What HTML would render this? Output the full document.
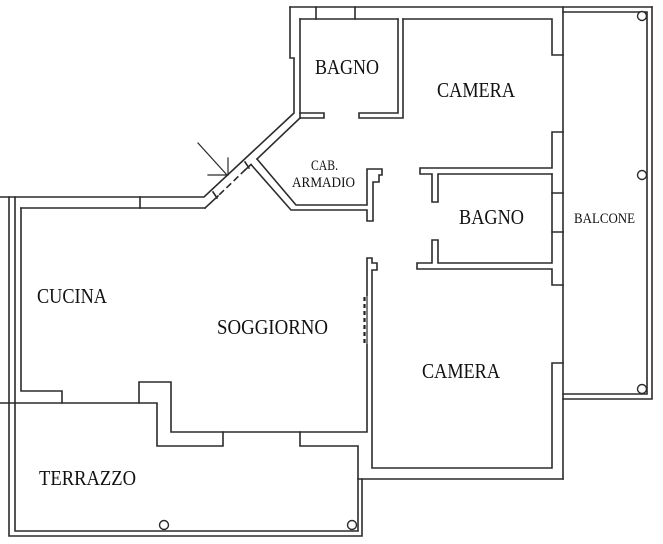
<!DOCTYPE html>
<html><head><meta charset="utf-8"><style>
html,body{margin:0;padding:0;background:#fff;}
svg{display:block;}
text{font-family:"Liberation Serif",serif;fill:#111;}
</style></head><body>
<svg width="663" height="544" viewBox="0 0 663 544" xmlns="http://www.w3.org/2000/svg">
<g fill="none" stroke="#2b2b2b" stroke-width="1.6" stroke-linejoin="miter" stroke-linecap="square">
<!-- top outer wall -->
<path d="M290,7 L652,7"/>
<path d="M290,7 L290,58 L294,58 L294,113 L204,197 L0,197"/>
<!-- bagno top -->
<path d="M300,19 L398,19"/>
<path d="M316,7 L316,19 M355,7 L355,19"/>
<path d="M300,19 L300,118"/>
<path d="M300,113 L324,113 L324,118 L300,118"/>
<path d="M398,19 L398,113 L359,113 L359,118 L403,118 L403,19"/>
<!-- camera top -->
<path d="M403,19 L552,19 L552,55 L563,55"/>
<path d="M563,132 L552,132 L552,168 L420,168 L420,174 L432,174 L432,202 L438,202 L438,174 L552,174"/>
<!-- main vertical wall -->
<path d="M563,7 L563,479"/>
<!-- bagno middle -->
<path d="M552,174 L552,263 L438,263 L438,240 L432,240 L432,263 L417,263 L417,269 L552,269 L552,285 L563,285"/>
<path d="M552,193 L563,193 M552,232 L563,232"/>
<!-- camera lower -->
<path d="M563,363 L552,363 L552,468 L372,468 L372,270 L377,270 L377,263 L372,263 L372,258 L367,258 L367,295"/>
<path d="M367,345 L367,432 L171,432 L171,382 L139,382 L139,403"/>
<path d="M358,479 L563,479"/>
<!-- balcone -->
<path d="M563,12 L647,12 L647,394 L563,394"/>
<path d="M652,7 L652,399 L563,399"/>
<!-- cucina -->
<path d="M21,208 L205,208"/>
<path d="M140,197 L140,208"/>
<path d="M21,208 L21,391 L62,391 L62,403"/>
<path d="M9,197 L9,536 L362,536 L362,479"/>
<path d="M15,197 L15,531 L358,531 L358,446 L300,446 L300,432"/>
<path d="M0,403 L157,403 L157,446 L223,446 L223,432"/>
<!-- entrance diagonal -->
<path d="M300,118 L257,159"/>
<path d="M251,164.5 L245,170"/>
<path d="M218,196 L205,208"/>
<path d="M245,170 L218,196" stroke-dasharray="5,5"/>
<path d="M213,192 L217,198 M245,162 L249,168"/>
<!-- closet -->
<path d="M257,159 L296,205 L367,205 L367,169 L382,169 L382,175 L379,175 L379,182 L373,182 L373,221 L367,221 L367,210 L291,210 L251,164.5"/>
<!-- entrance arrow -->
<path d="M198,143 L227,175 M228,158 L228,175 M208,175 L228,175" stroke-width="1.2"/>
</g>
<!-- dashed sliding wall -->
<path d="M367,295 L367,345" stroke="#2b2b2b" stroke-width="1.2" fill="none"/>
<path d="M364.5,297 L364.5,343" stroke="#222" stroke-width="2.2" stroke-dasharray="4,3" fill="none"/>
<!-- columns -->
<g fill="#fff" stroke="#2b2b2b" stroke-width="1.4">
<circle cx="642" cy="16" r="4.5"/>
<circle cx="642" cy="175" r="4.5"/>
<circle cx="642" cy="389" r="4.5"/>
<circle cx="164" cy="525" r="4.5"/>
<circle cx="352" cy="525" r="4.5"/>
</g>
<!-- labels -->
<text x="315" y="74" font-size="21" textLength="64" lengthAdjust="spacingAndGlyphs">BAGNO</text>
<text x="437" y="97" font-size="21" textLength="78" lengthAdjust="spacingAndGlyphs">CAMERA</text>
<text x="311" y="170" font-size="15" textLength="27" lengthAdjust="spacingAndGlyphs">CAB.</text>
<text x="292" y="187" font-size="15" textLength="63" lengthAdjust="spacingAndGlyphs">ARMADIO</text>
<text x="459" y="224" font-size="21" textLength="65" lengthAdjust="spacingAndGlyphs">BAGNO</text>
<text x="574" y="223" font-size="15" textLength="61" lengthAdjust="spacingAndGlyphs">BALCONE</text>
<text x="37" y="303" font-size="21" textLength="70" lengthAdjust="spacingAndGlyphs">CUCINA</text>
<text x="217" y="334" font-size="21" textLength="111" lengthAdjust="spacingAndGlyphs">SOGGIORNO</text>
<text x="422" y="378" font-size="21" textLength="78" lengthAdjust="spacingAndGlyphs">CAMERA</text>
<text x="39" y="485" font-size="21" textLength="97" lengthAdjust="spacingAndGlyphs">TERRAZZO</text>
</svg>
</body></html>
